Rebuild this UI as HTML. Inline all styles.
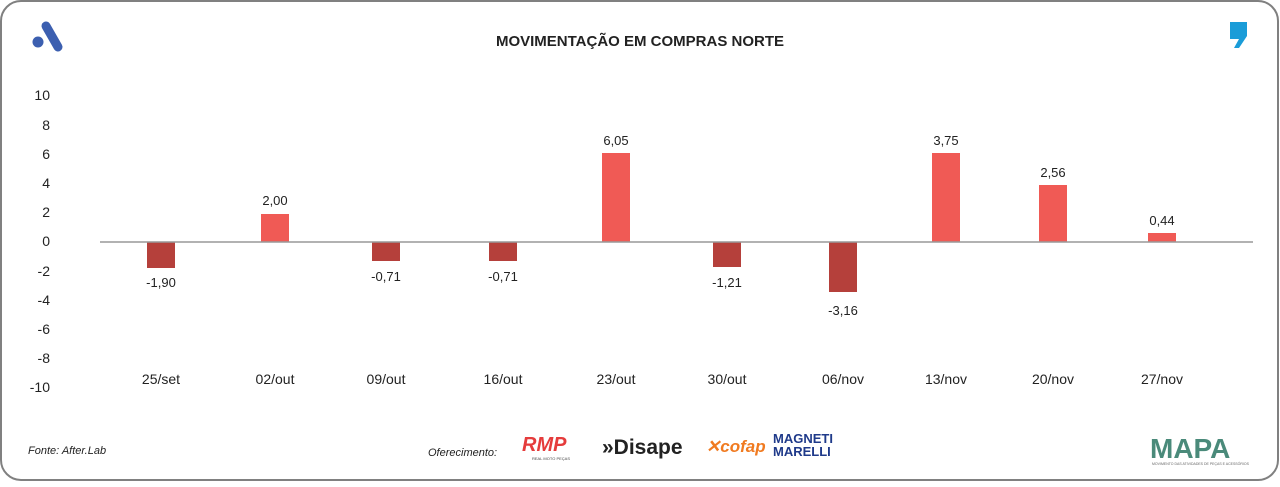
<!DOCTYPE html>
<html><head><style>
body{margin:0;width:1280px;height:482px;background:#fff;font-family:"Liberation Sans",sans-serif;overflow:hidden}
</style></head><body>
<svg width="1280" height="482" xmlns="http://www.w3.org/2000/svg" font-family="Liberation Sans, sans-serif">
<rect x="1" y="1" width="1277" height="479" rx="20" fill="#fff" stroke="#808080" stroke-width="2"/>
<g transform="translate(30,20)">
<line x1="16" y1="6" x2="28" y2="27" stroke="#3c5fb0" stroke-width="9" stroke-linecap="round"/>
<circle cx="8" cy="22" r="5.5" fill="#3c5fb0"/>
</g>
<path d="M1230 22 h17 v14 l-8 12 h-5 l5 -9 h-9z" fill="#1a9cd8"/>
<text x="640" y="46" text-anchor="middle" font-size="15" font-weight="bold" fill="#222">MOVIMENTAÇÃO EM COMPRAS NORTE</text>
<g font-size="14" fill="#222" text-anchor="end">
<text x="50" y="100">10</text><text x="50" y="130">8</text><text x="50" y="159">6</text><text x="50" y="188">4</text><text x="50" y="217">2</text><text x="50" y="246">0</text><text x="50" y="276">-2</text><text x="50" y="305">-4</text><text x="50" y="334">-6</text><text x="50" y="363">-8</text><text x="50" y="392">-10</text>
</g>
<g fill="#b5403b">
<rect x="147" y="242" width="28" height="26"/>
<rect x="372" y="242" width="28" height="19"/>
<rect x="489" y="242" width="28" height="19"/>
<rect x="713" y="242" width="28" height="25"/>
<rect x="829" y="242" width="28" height="50"/>
</g>
<g fill="#f05a55">
<rect x="261" y="214" width="28" height="28"/>
<rect x="602" y="153" width="28" height="89"/>
<rect x="932" y="153" width="28" height="89"/>
<rect x="1039" y="185" width="28" height="57"/>
<rect x="1148" y="233" width="28" height="9"/>
</g>
<line x1="100" y1="242" x2="1253" y2="242" stroke="#999" stroke-width="1.5"/>
<g font-size="13" fill="#222" text-anchor="middle">
<text x="161" y="287">-1,90</text><text x="275" y="205">2,00</text><text x="386" y="281">-0,71</text><text x="503" y="281">-0,71</text><text x="616" y="145">6,05</text><text x="727" y="287">-1,21</text><text x="843" y="315">-3,16</text><text x="946" y="145">3,75</text><text x="1053" y="177">2,56</text><text x="1162" y="225">0,44</text>
</g>
<g font-size="14" fill="#222" text-anchor="middle">
<text x="161" y="384">25/set</text><text x="275" y="384">02/out</text><text x="386" y="384">09/out</text><text x="503" y="384">16/out</text><text x="616" y="384">23/out</text><text x="727" y="384">30/out</text><text x="843" y="384">06/nov</text><text x="946" y="384">13/nov</text><text x="1053" y="384">20/nov</text><text x="1162" y="384">27/nov</text>
</g>
<text x="28" y="454" font-size="11" font-style="italic" fill="#222">Fonte: After.Lab</text>
<text x="428" y="456" font-size="11" font-style="italic" fill="#222">Oferecimento:</text>
<text x="522" y="451" font-size="20" font-weight="bold" fill="#e53c3c" font-style="italic">RMP</text>
<text x="532" y="460" font-size="4" fill="#444">REAL MOTO PEÇAS</text>
<text x="602" y="454" font-size="21" font-weight="bold" fill="#222">»Disape</text>
<text x="706" y="452" font-size="17" font-weight="bold" font-style="italic" fill="#f07a20">✕cofap</text>
<text x="773" y="443" font-size="13" font-weight="bold" fill="#1f3a8a">MAGNETI</text>
<text x="773" y="456" font-size="13" font-weight="bold" fill="#1f3a8a">MARELLI</text>
<text x="1150" y="458" font-size="28" font-weight="bold" fill="#4a8a7a">MAPA</text>
<text x="1152" y="465" font-size="3.5" fill="#666">MOVIMENTO DAS ATIVIDADES DE PEÇAS E ACESSÓRIOS</text>
</svg>
</body></html>
